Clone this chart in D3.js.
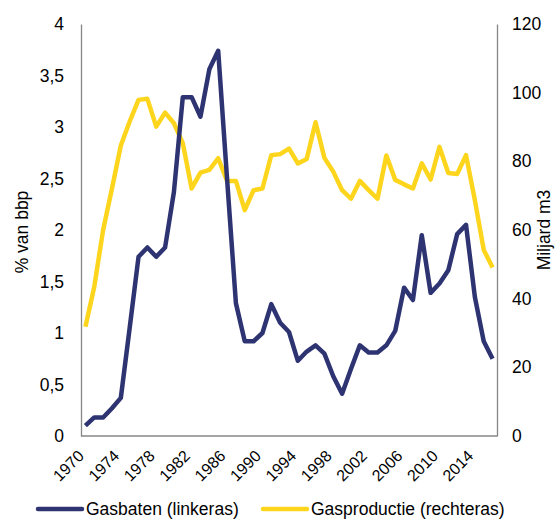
<!DOCTYPE html>
<html>
<head>
<meta charset="utf-8">
<script src="https://cdn.jsdelivr.net/npm/d3@7"></script>
<style>
  body { margin: 0; background: #fff; }
  svg { font-family: "Liberation Sans", Arial, sans-serif; }
</style>
</head>
<body>
<div id="chart"></div>
<script>
var years = d3.range(1970, 2017);

// % van bbp (linkeras)
var gasbaten = [
  0.1, 0.18, 0.18, 0.27, 0.37, 1.05, 1.74, 1.83, 1.74, 1.83,
  2.37, 3.29, 3.29, 3.1, 3.56, 3.74, 2.5, 1.29, 0.92, 0.92,
  1.0, 1.28, 1.1, 1.01, 0.73, 0.82, 0.88, 0.8, 0.58, 0.41,
  0.65, 0.88, 0.81, 0.81, 0.88, 1.02, 1.44, 1.32, 1.95, 1.39,
  1.48, 1.61, 1.96, 2.05, 1.35, 0.92, 0.75
];

// miljard m3 (rechteras)
var gasproductie = [
  31.8, 43.5, 60, 72.1, 84.6, 91.6, 97.9, 98.2, 90.1, 94.2,
  91.1, 85.3, 72.1, 76.7, 77.5, 80.9, 74.3, 74.3, 65.8, 71.6,
  72.1, 81.8, 82.1, 83.7, 79.4, 80.7, 91.4, 81, 77, 71.6,
  69.1, 74.3, 71.6, 69.1, 81.7, 74.6, 73.3, 72.1, 79.4, 74.7,
  84.2, 76.6, 76.3, 81.8, 68.7, 54.2, 49.1
];

var leftTicks = [0, 0.5, 1, 1.5, 2, 2.5, 3, 3.5, 4];
var rightTicks = [0, 20, 40, 60, 80, 100, 120];
var yearLabels = d3.range(1970, 2017, 4);

var seriesNames = ["Gasbaten (linkeras)", "Gasproductie (rechteras)"];
var colors = ["#2e3472", "#fdd51d"];

var width = 555, height = 520;
var plotLeft = 81, plotRight = 497, plotTop = 24, plotBottom = 436;

var nl = d3.formatLocale({decimal: ",", thousands: ".", grouping: [3], currency: ["€", ""]});
var fmt = nl.format("~g");

var svg = d3.select("#chart").append("svg")
  .attr("width", width)
  .attr("height", height);

var x = d3.scalePoint().domain(years).range([plotLeft, plotRight]).padding(0.5);
var yL = d3.scaleLinear().domain([0, 4]).range([plotBottom, plotTop]);
var yR = d3.scaleLinear().domain([0, 120]).range([plotBottom, plotTop]);

// axes
var axL = svg.append("g")
  .attr("transform", "translate(" + plotLeft + ",0)")
  .call(d3.axisLeft(yL).tickValues(leftTicks).tickSize(0).tickPadding(17).tickFormat(fmt));
var axR = svg.append("g")
  .attr("transform", "translate(" + plotRight + ",0)")
  .call(d3.axisRight(yR).tickValues(rightTicks).tickSize(0).tickPadding(15));

[axL, axR].forEach(function(a) {
  a.select(".domain").attr("stroke", "#868686").attr("stroke-width", 1.3);
  a.selectAll("text").attr("font-size", 17.5).attr("fill", "#000")
    .attr("font-family", "Liberation Sans, Arial, sans-serif");
});

svg.append("line")
  .attr("x1", plotLeft).attr("x2", plotRight)
  .attr("y1", plotBottom).attr("y2", plotBottom)
  .attr("stroke", "#868686").attr("stroke-width", 1.3);

svg.selectAll(".xlab")
  .data(yearLabels)
  .enter().append("text")
  .attr("class", "xlab")
  .attr("transform", function(d) { return "translate(" + (x(d) - 0.5) + "," + (plotBottom + 21) + ") rotate(-45)"; })
  .attr("text-anchor", "end")
  .attr("font-size", 16)
  .text(function(d) { return d; });

// axis titles
svg.append("text")
  .attr("transform", "translate(28,232) rotate(-90)")
  .attr("text-anchor", "middle")
  .attr("font-size", 17.5)
  .text("% van bbp");

svg.append("text")
  .attr("transform", "translate(550,230) rotate(-90)")
  .attr("text-anchor", "middle")
  .attr("font-size", 17.5)
  .text("Miljard m3");

// lines
var lineL = d3.line()
  .x(function(d, i) { return x(years[i]); })
  .y(function(d) { return yL(d); });
var lineR = d3.line()
  .x(function(d, i) { return x(years[i]); })
  .y(function(d) { return yR(d); });

svg.append("path")
  .datum(gasproductie)
  .attr("d", lineR)
  .attr("fill", "none")
  .attr("stroke", colors[1])
  .attr("stroke-width", 4.5)
  .attr("stroke-linejoin", "round");

svg.append("path")
  .datum(gasbaten)
  .attr("d", lineL)
  .attr("fill", "none")
  .attr("stroke", colors[0])
  .attr("stroke-width", 4.5)
  .attr("stroke-linejoin", "round");

// legend
var legX = [38, 263];
var leg = svg.selectAll(".leg")
  .data(seriesNames)
  .enter().append("g")
  .attr("transform", function(d, i) { return "translate(" + legX[i] + ",509)"; });

leg.append("line")
  .attr("x1", 0).attr("x2", 44)
  .attr("stroke", function(d, i) { return colors[i]; })
  .attr("stroke-width", 4.5)
  .attr("stroke-linecap", "round");

leg.append("text")
  .attr("x", 48)
  .attr("dy", "0.35em")
  .attr("font-size", 17.5)
  .text(function(d) { return d; });
</script>
</body>
</html>
